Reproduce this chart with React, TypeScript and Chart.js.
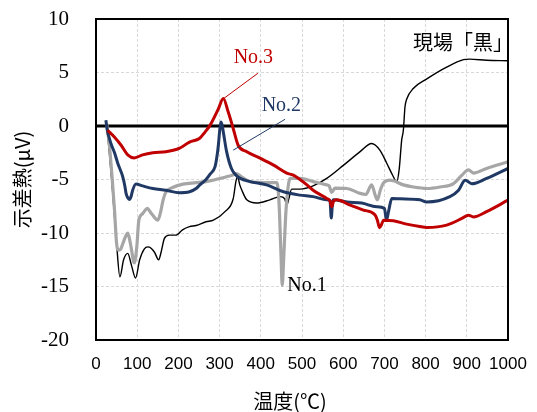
import React, { useEffect, useRef } from "react";
import { Chart, registerables } from "chart.js";

Chart.register(...registerables);

// ---- axis ranges ----
const xMin = 0;
const xMax = 1000;
const xStep = 100;
const yMin = -20;
const yMax = 10;
const yStep = 5;

// ---- 現場「黒」 (thin black) ----
const blackX = [24, 30, 40, 50, 58, 67, 77, 86, 96, 106, 117, 126, 133, 142, 152, 158, 166, 178, 194, 210, 227, 243, 267, 285, 313, 333, 340, 344, 349, 354, 366, 390, 422, 447, 458, 463, 468, 475, 495, 527, 560, 601, 641, 669, 689, 706, 720, 730, 736, 742, 746, 750, 754, 770, 803, 851, 892, 907, 948, 1000];
const blackY = [0.5, -1.5, -6, -11, -14.1, -12.5, -11.9, -13, -14.2, -12.5, -11.5, -11.3, -11.4, -11.8, -12.5, -11.8, -10.5, -10.2, -10.2, -9.7, -9.4, -9.3, -8.95, -8.8, -8.0, -6.8, -5.1, -4.75, -5.5, -6.0, -6.9, -7.2, -6.9, -6.6, -6.8, -7.4, -6.8, -5.9, -5.9, -5.6, -4.9, -3.66, -2.4, -1.64, -2.26, -3.5, -4.6, -5.2, -4.0, -1.3, -0.4, 1.8, 2.5, 3.5, 4.4, 5.5, 6.2, 6.25, 6.14, 6.1];

// ---- No.1 (grey) ----
const no1X = [26, 32, 39, 45, 50, 55, 60, 65, 72, 77, 81, 85, 93, 99, 104, 113, 125, 131, 137, 150, 157, 163, 170, 186, 211, 243, 267, 301, 330, 341, 355, 374, 420, 439, 444, 449, 452, 456, 461, 467, 471, 495, 527, 560, 566, 572, 580, 609, 641, 655, 669, 678, 683, 690, 698, 714, 746, 770, 803, 835, 867, 888, 904, 916, 948, 1000];
const no1Y = [0.2, -1.6, -4.75, -7.9, -11, -11.6, -11.5, -11.0, -10.3, -10.0, -10.5, -11.3, -12.8, -11.3, -8.8, -8.2, -7.7, -8.0, -8.3, -8.8, -8.0, -6.9, -6.15, -5.75, -5.43, -5.3, -5.2, -4.9, -4.6, -4.45, -4.8, -5.2, -5.3, -5.3, -7, -12, -14.9, -12, -8, -5.5, -4.9, -4.9, -5.2, -5.5, -5.6, -6.2, -5.8, -5.84, -6.3, -6.4, -5.5, -6.5, -6.9, -6.0, -5.3, -5.06, -5.5, -5.7, -5.84, -5.7, -5.4, -4.6, -4.1, -4.4, -3.97, -3.35];

// ---- No.2 (navy) ----
const no2X = [24, 27, 36, 45, 53, 65, 70, 73, 77, 81, 85, 89, 97, 113, 138, 170, 202, 227, 243, 252, 267, 277, 289, 293, 297, 300, 303, 306, 309, 317, 329, 340, 350, 374, 414, 455, 495, 527, 560, 568, 571, 574, 576, 609, 645, 681, 700, 705, 710, 718, 738, 786, 803, 859, 880, 896, 912, 948, 1000];
const no2Y = [0.54, -0.3, -1.6, -2.5, -3.5, -4.75, -5.6, -6.3, -6.7, -6.86, -6.6, -6.0, -5.43, -5.6, -5.84, -6.0, -6.24, -6.15, -5.84, -5.5, -5.0, -4.5, -3.8, -3.0, -1.8, -0.5, 0.38, 0.1, -0.55, -2.4, -4.0, -4.6, -4.9, -5.2, -5.5, -6.15, -6.46, -6.6, -6.9, -7.0, -8.6, -7.2, -6.9, -7.1, -7.2, -7.55, -7.7, -8.8, -8.0, -6.77, -6.8, -6.9, -7.1, -6.6, -6.0, -5.06, -5.4, -4.9, -3.97];

// ---- No.3 (red) ----
const no3X = [28, 44, 61, 77, 93, 113, 138, 170, 202, 227, 251, 265, 277, 297, 309, 321, 333, 345, 366, 398, 431, 463, 479, 495, 512, 527, 560, 568, 572, 577, 584, 617, 649, 677, 683, 688, 693, 698, 722, 754, 786, 803, 851, 888, 904, 916, 948, 1000];
const no3Y = [-0.4, -1.0, -1.8, -2.7, -2.98, -2.7, -2.5, -2.4, -2.1, -1.5, -1.17, -0.55, 0.08, 1.6, 2.57, 1.3, -0.23, -1.8, -2.4, -3.0, -3.66, -4.4, -4.6, -5.0, -5.5, -6.0, -6.77, -7.0, -7.55, -7.0, -6.9, -7.4, -7.86, -8.3, -8.8, -9.5, -9.2, -8.8, -8.86, -9.17, -9.4, -9.48, -9.26, -8.64, -8.33, -8.5, -8.0, -6.93];

// ---- annotations (data coordinates) ----
const noteTexts = ["現場「黒」", "No.3", "No.2", "No.1"];
const noteX = [1012, 382, 450, 512];
const noteY = [7.8, 6.42, 1.9, -14.96];
const noteColors = ["#000000", "#c00000", "#1f3864", "#000000"];
const noteFonts = ['20px "Noto Sans CJK JP"', '20px "Liberation Serif"', '20px "Liberation Serif"', '20px "Liberation Serif"'];
const noteAlign: CanvasTextAlign[] = ["right", "center", "center", "center"];

// leader lines [x1, y1, x2, y2]
const leaderRed = [311, 2.6, 393, 4.93];
const leaderNavy = [333, -2.26, 459, 0.63];

const xTitle = "温度(℃)";
const yTitle = "示差熱(μV)";

const zip = (xs: number[], ys: number[]) => xs.map((x, i) => ({ x, y: ys[i] }));

const overlayPlugin = {
  id: "overlay",
  beforeDatasetsDraw(chart: any) {
    const { ctx, chartArea, scales } = chart;
    const y0 = scales.y.getPixelForValue(0);
    ctx.save();
    ctx.strokeStyle = "#000";
    ctx.lineWidth = 3;
    ctx.beginPath();
    ctx.moveTo(chartArea.left, y0);
    ctx.lineTo(chartArea.right, y0);
    ctx.stroke();
    ctx.restore();
  },
  afterDatasetsDraw(chart: any) {
    const { ctx, chartArea, scales } = chart;
    const sx = scales.x;
    const sy = scales.y;
    ctx.save();
    // frame
    ctx.strokeStyle = "#000";
    ctx.lineWidth = 2;
    ctx.strokeRect(chartArea.left, chartArea.top, chartArea.right - chartArea.left, chartArea.bottom - chartArea.top);
    // leader lines
    const drawLeader = (l: number[], color: string) => {
      ctx.strokeStyle = color;
      ctx.lineWidth = 1;
      ctx.beginPath();
      ctx.moveTo(sx.getPixelForValue(l[0]), sy.getPixelForValue(l[1]));
      ctx.lineTo(sx.getPixelForValue(l[2]), sy.getPixelForValue(l[3]));
      ctx.stroke();
    };
    drawLeader(leaderRed, "#c00000");
    drawLeader(leaderNavy, "#1f3864");
    // texts
    ctx.textBaseline = "middle";
    noteTexts.forEach((t, i) => {
      ctx.font = noteFonts[i];
      ctx.fillStyle = noteColors[i];
      ctx.textAlign = noteAlign[i];
      ctx.fillText(t, sx.getPixelForValue(noteX[i]), sy.getPixelForValue(noteY[i]));
    });
    // x axis title (slightly left of centre, as in the original)
    ctx.font = '20px "Noto Sans CJK JP"';
    ctx.fillStyle = "#000";
    ctx.textAlign = "center";
    ctx.fillText(xTitle, (chartArea.left + chartArea.right) / 2 - 12, chart.height - 11);
    ctx.restore();
  },
};

export default function App() {
  const ref = useRef<HTMLCanvasElement>(null);
  useEffect(() => {
    const line = (label: string, xs: number[], ys: number[], color: string, width: number) => ({
      label,
      data: zip(xs, ys),
      borderColor: color,
      backgroundColor: color,
      borderWidth: width,
      pointRadius: 0,
      fill: false,
      cubicInterpolationMode: "monotone" as const,
    });
    const chart = new Chart(ref.current!, {
      type: "line",
      data: {
        datasets: [
          line("No.3", no3X, no3Y, "#c00000", 3),
          line("No.2", no2X, no2Y, "#1f3864", 3),
          line("No.1", no1X, no1Y, "#a6a6a6", 3.2),
          line("現場「黒」", blackX, blackY, "#000000", 1.4),
        ],
      },
      options: {
        responsive: false,
        animation: false,
        layout: { padding: { top: 19, right: 29, bottom: 0, left: 0 } },
        plugins: { legend: { display: false }, tooltip: { enabled: false } },
        scales: {
          x: {
            type: "linear",
            min: xMin,
            max: xMax,
            afterFit: (s: any) => {
              s.height = 72;
            },
            ticks: {
              stepSize: xStep,
              autoSkip: false,
              maxRotation: 0,
              padding: 0,
              color: "#000",
              callback: (v: any) => String(v),
              font: { family: '"Liberation Sans", Arial, sans-serif', size: 17 },
            },
            grid: { color: "#d9d9d9", drawTicks: true, tickLength: 14, tickColor: "rgba(0,0,0,0)", lineWidth: 1 },
            border: { display: false, dash: [3, 2] },
            title: { display: false },
          },
          y: {
            type: "linear",
            min: yMin,
            max: yMax,
            afterFit: (s: any) => {
              s.width = 96;
            },
            ticks: {
              stepSize: yStep,
              padding: 0,
              color: "#000",
              font: { family: '"Liberation Serif", "Times New Roman", serif', size: 21 },
            },
            grid: { color: "#d9d9d9", drawTicks: true, tickLength: 27, tickColor: "rgba(0,0,0,0)", lineWidth: 1 },
            border: { display: false, dash: [3, 2] },
            title: {
              display: true,
              text: yTitle,
              color: "#000",
              font: { family: '"Noto Sans CJK JP"', size: 20 },
              padding: { top: 10, bottom: 0 },
            },
          },
        },
      },
      plugins: [overlayPlugin],
    });
    return () => chart.destroy();
  }, []);
  return (
    <div style={{ position: "absolute", left: 0, top: 0, width: 537, height: 412 }}>
      <canvas ref={ref} width={537} height={412} style={{ display: "block" }} />
    </div>
  );
}
